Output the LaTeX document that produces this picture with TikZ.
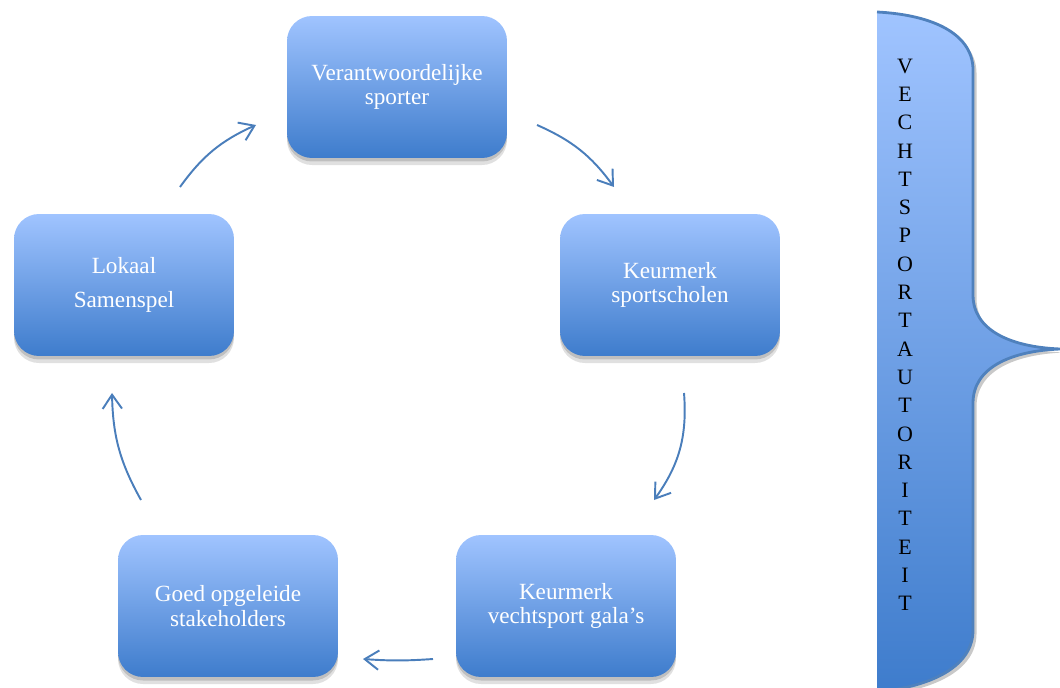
\documentclass[tikz,border=0pt]{standalone}
\usepackage{fontspec}
\setmainfont{Liberation Serif}
\usetikzlibrary{arrows.meta,shadows}
\definecolor{boxtop}{RGB}{160,196,255}
\definecolor{boxbot}{RGB}{62,124,204}
\definecolor{arrowblue}{RGB}{74,126,187}
\definecolor{edgeblue}{RGB}{79,129,189}

\begin{document}
\begin{tikzpicture}[x=0.02cm, y=-0.02cm,
    stap/.style={rounded corners=0.5cm, minimum width=4.4cm, minimum height=2.84cm,
      top color=boxtop, bottom color=boxbot, text=white, align=center,
      font=\fontsize{13.2}{14}\selectfont,
      drop shadow={shadow xshift=0pt, shadow yshift=-4pt, opacity=0.12, fill=black},
      drop shadow={shadow xshift=0pt, shadow yshift=-2pt, opacity=0.15, fill=black}},
    pijl/.style={draw=arrowblue, line width=1.1pt, -{Straight Barb[length=8pt,width=11pt]}}]
    \useasboundingbox (0,0) rectangle (1060,688);

    \fill[top color=boxtop, bottom color=boxbot,
      drop shadow={shadow xshift=2pt, shadow yshift=-2pt, opacity=0.3, fill=black!70}]
      (877,12) .. controls (935,15) and (973,35) .. (973,70) -- (973,295)
      .. controls (973,330) and (1010,347) .. (1060,349)
      .. controls (1010,351) and (973,368) .. (973,403) -- (973,630)
      .. controls (973,665) and (935,686) .. (877,692) -- cycle;
    \draw[edgeblue, line width=1.6pt, line join=round]
      (877,12) .. controls (935,15) and (973,35) .. (973,70) -- (973,295)
      .. controls (973,330) and (1010,347) .. (1060,349)
      .. controls (1010,351) and (973,368) .. (973,403) -- (973,630)
      .. controls (973,665) and (935,686) .. (877,692);
    \foreach \c [count=\i from 0] in {V,E,C,H,T,S,P,O,R,T,A,U,T,O,R,I,T,E,I,T}
      \node[font=\fontsize{12.5}{13.5}\selectfont] (letter\i) at (905, 66+28.3*\i) {\c};

    \node[stap] (sporter) at (397, 87) {Verantwoordelijke\\sporter};
    \node[stap] (scholen) at (670, 285) {Keurmerk\\sportscholen};
    \node[stap] (gala) at (566, 606) {Keurmerk\\vechtsport gala's};
    \node[stap] (stakeh) at (228, 606) {Goed opgeleide\\stakeholders};
    \node[stap] (lokaal) at (124, 285) {Lokaal\\[5pt]Samenspel};

    \coordinate (p1a) at (180, 187);
    \coordinate (p1b) at (256, 125);
    \coordinate (p2a) at (537, 125);
    \coordinate (p2b) at (614, 187);
    \coordinate (p3a) at (684, 393);
    \coordinate (p3b) at (654, 500);
    \coordinate (p4a) at (433, 659);
    \coordinate (p4b) at (363, 659);
    \coordinate (p5a) at (141, 500);
    \coordinate (p5b) at (112, 393);

    \draw[pijl] (p1a) to[bend left=15] (p1b);
    \draw[pijl] (p2a) to[bend left=15] (p2b);
    \draw[pijl] (p3a) to[bend left=20] (p3b);
    \draw[pijl] (p4a) to[bend left=4] (p4b);
    \draw[pijl] (p5a) to[bend left=14] (p5b);
\end{tikzpicture}
\end{document}
